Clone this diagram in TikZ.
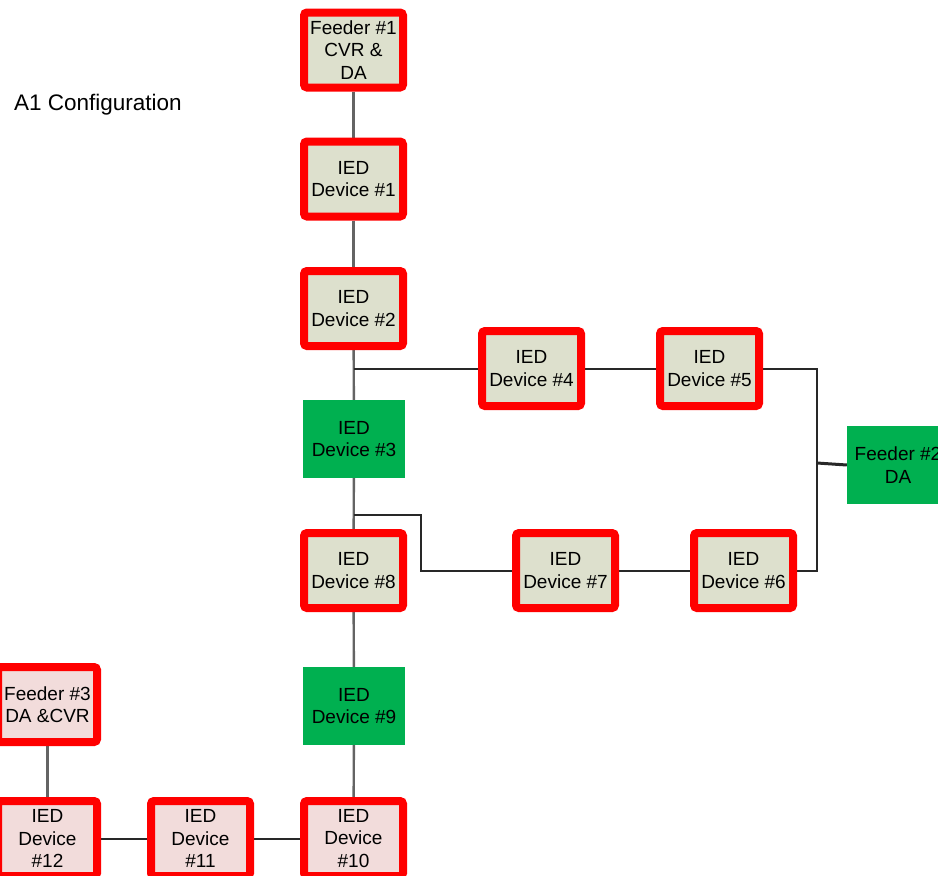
\documentclass[tikz,border=0pt]{standalone}
\usepackage{fontspec}
\setmainfont{Liberation Sans}
\usetikzlibrary{backgrounds}
\definecolor{boxgray}{RGB}{221,224,205}
\definecolor{boxpink}{RGB}{242,220,219}
\definecolor{boxgreen}{RGB}{0,176,80}
\definecolor{boxred}{RGB}{255,0,0}
\definecolor{linegray}{RGB}{100,100,100}
\definecolor{lineblack}{RGB}{40,40,40}
\begin{document}
\begin{tikzpicture}[x=1pt,y=-1pt,
  base/.style={font=\fontsize{19}{22.5}\selectfont, align=center, inner sep=0pt, text=black},
  redbox/.style={base, draw=boxred, line width=8pt, rounded corners=3pt, fill=boxgray, minimum width=99pt, minimum height=75pt},
  pinkbox/.style={redbox, fill=boxpink},
  greenbox/.style={base, fill=boxgreen, minimum width=102pt, minimum height=78pt},
  vline/.style={draw=linegray, line width=2.4pt},
  hline/.style={draw=lineblack, line width=2pt}
]
\useasboundingbox (0,0) rectangle (938,876);
\clip (0,0) rectangle (938,876);

\node[base, anchor=west, font=\fontsize{22.5}{26}\selectfont] (title) at (14,105) {A1 Configuration};

\node[redbox] (f1) at (353.5,50) {Feeder \#1\\CVR \&\\DA};
\node[redbox] (d1) at (353.5,179) {IED\\Device \#1};
\node[redbox] (d2) at (353.5,308.5) {IED\\Device \#2};
\node[greenbox] (d3) at (354,439) {IED\\Device \#3};
\node[redbox] (d4) at (531.5,368.5) {IED\\Device \#4};
\node[redbox] (d5) at (709.5,368.5) {IED\\Device \#5};
\node[greenbox] (f2) at (898,465) {Feeder \#2\\DA};
\node[redbox] (d8) at (353.5,570.5) {IED\\Device \#8};
\node[redbox] (d7) at (565.5,570.5) {IED\\Device \#7};
\node[redbox] (d6) at (743.5,570.5) {IED\\Device \#6};
\node[greenbox] (d9) at (354,706) {IED\\Device \#9};
\node[pinkbox] (f3) at (47.5,704.5) {Feeder \#3\\DA \&CVR};
\node[pinkbox] (d12) at (47.5,838.5) {IED\\Device\\\#12};
\node[pinkbox] (d11) at (200.5,838.5) {IED\\Device\\\#11};
\node[pinkbox] (d10) at (353.5,838.5) {IED\\Device\\\#10};

\coordinate (b1) at (353.5,368.5);
\coordinate (b2) at (353.5,515);
\coordinate (k) at (421,515);
\coordinate (j2) at (817,463);

\begin{scope}[on background layer]
\draw[vline] (f1) -- (d1);
\draw[vline] (d1) -- (d2);
\draw[vline] (d2) -- (d3);
\draw[vline] (d3) -- (d8);
\draw[vline] (d8) -- (d9);
\draw[vline] (d9) -- (d10);
\draw[vline] (f3) -- (d12);
\draw[hline] (b1) -- (d4);
\draw[hline] (d4) -- (d5);
\draw[hline] (d5.east) -| (j2) |- (d6.east);
\draw[hline, line width=3pt] (j2) -- (f2.west);
\draw[hline] (b2) -- (k) |- (d7.west);
\draw[hline] (d7) -- (d6);
\draw[hline] (d12) -- (d11);
\draw[hline] (d11) -- (d10);
\end{scope}
\end{tikzpicture}
\end{document}
